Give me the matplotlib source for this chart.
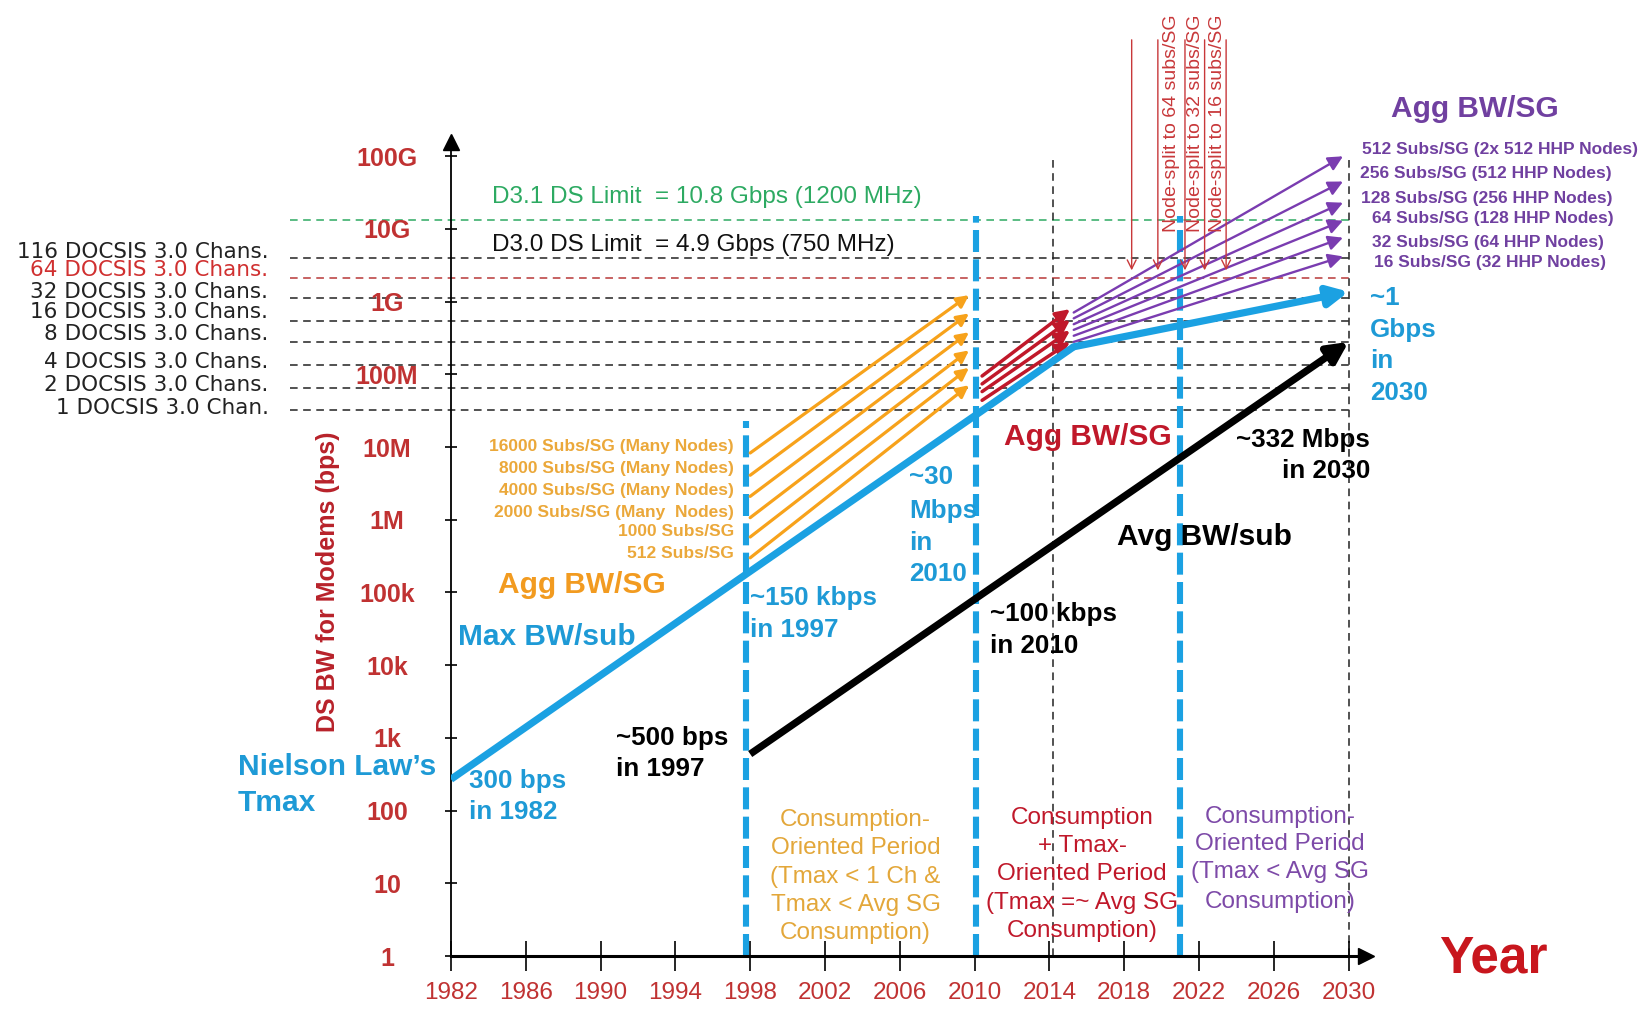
import matplotlib
matplotlib.use("Agg")
import matplotlib.pyplot as plt
from matplotlib.ticker import NullLocator

plt.rcParams['font.family'] = ['Liberation Sans', 'DejaVu Sans']

# ---------------- data ----------------
x_ticks = [1982, 1986, 1990, 1994, 1998, 2002, 2006, 2010, 2014, 2018, 2022, 2026, 2030]
y_ticks = [1, 10, 100, 1e3, 1e4, 1e5, 1e6, 1e7, 1e8, 1e9, 1e10, 1e11]
y_tick_labels = ['1', '10', '100', '1k', '10k', '100k', '1M', '10M', '100M', '1G', '10G', '100G']

# Nielsen's law Tmax (Max BW/sub)
maxbw_years = [1982, 1997.8, 2010.1, 2015.3, 2030.0]
maxbw_bps = [270, 1.8e5, 2.8e7, 2.4e8, 1.37e9]

# Avg BW/sub
avgbw_years = [1998.0, 2010.1, 2030.0]
avgbw_bps = [600, 8.4e4, 2.8e8]

# Agg BW/SG (orange, 1998-2010)
orange_years = [1998.0, 2009.7]
orange_labels = ['16000 Subs/SG (Many Nodes)', '8000 Subs/SG (Many Nodes)',
                 '4000 Subs/SG (Many Nodes)', '2000 Subs/SG (Many  Nodes)',
                 '1000 Subs/SG', '512 Subs/SG']
orange_start = [8.3e6, 4.1e6, 2.1e6, 1.07e6, 5.8e5, 3.0e5]
orange_end = [1.23e9, 6.9e8, 3.8e8, 2.14e8, 1.23e8, 7.1e7]

# Agg BW/SG (dark red, 2010-2015)
red_years = [2010.4, 2015.1]
red_start = [9.5e7, 7.4e7, 5.8e7, 4.4e7]
red_end = [7.9e8, 5.6e8, 4.0e8, 2.8e8]

# Agg BW/SG (purple, 2015-2030)
purple_years = [2015.3, 2029.7]
purple_labels = ['512 Subs/SG (2x 512 HHP Nodes)', '256 Subs/SG (512 HHP Nodes)',
                 '128 Subs/SG (256 HHP Nodes)', '64 Subs/SG (128 HHP Nodes)',
                 '32 Subs/SG (64 HHP Nodes)', '16 Subs/SG (32 HHP Nodes)']
purple_start = [7.1e8, 5.9e8, 4.9e8, 4.1e8, 3.4e8, 2.8e8]
purple_end = [1.0e11, 4.5e10, 2.3e10, 1.3e10, 7.6e9, 4.2e9]

# Node-split arrows
split_years = [2018.4, 2019.8, 2021.25, 2022.3, 2023.45]
split_top = 4.0e12
split_bottom = 2.7e9
split_labels = ['Node-split to 64 subs/SG', 'Node-split to 32 subs/SG', 'Node-split to 16 subs/SG']

# DOCSIS channel reference lines
docsis_labels = ['116 DOCSIS 3.0 Chans.', '64 DOCSIS 3.0 Chans.', '32 DOCSIS 3.0 Chans.',
                 '16 DOCSIS 3.0 Chans.', '8 DOCSIS 3.0 Chans.', '4 DOCSIS 3.0 Chans.',
                 '2 DOCSIS 3.0 Chans.', '1 DOCSIS 3.0 Chan.']
docsis_bps = [3.95e9, 2.14e9, 1.12e9, 5.5e8, 2.75e8, 1.35e8, 6.6e7, 3.2e7]
d31_bps = 1.35e10
hline_span = [1973.4, 2030.0]

# Period boundaries
blue_vline_years = [1997.8, 2010.1, 2021.0]
blue_vline_tops = [2.3e7, 1.5e10, 1.5e10]
black_vline_years = [2014.2, 2030.0]
black_vline_top = 9.5e10

# ---------------- style ----------------
BLUE = '#1BA1E2'
BLUE_T = '#1E9AD6'
ORANGE = '#F7A21B'
ORANGE_T = '#F29B20'
ORANGE_S = '#EBA83A'
GOLD = '#E3A73A'
DRED = '#C0182A'
PURPLE = '#7A3CB0'
PURPLE_T = '#7040A0'
GREEN = '#2DAA62'
TICKRED = '#C03232'
SPLITRED = '#C8383A'

W, H = 1652, 1010
X0, Y0 = 451, 956
PX_YR, PX_DEC = 18.7, 72.7
XR, YT = 1366, 142

fig = plt.figure(figsize=(W / 100, H / 100), dpi=100)
fig.patch.set_facecolor('white')
ax = fig.add_axes([X0 / W, (H - Y0) / H, (XR - X0) / W, (Y0 - YT) / H])
ax.set_facecolor('none')
ax.set_yscale('log')
ax.set_xlim(1982, 1982 + (XR - X0) / PX_YR)
ax.set_ylim(1, 10 ** ((Y0 - YT) / PX_DEC))

for s in ['top', 'right']:
    ax.spines[s].set_visible(False)
ax.spines['left'].set_linewidth(1.3)
ax.spines['bottom'].set_linewidth(2.2)
ax.plot(1, 0, '>', color='black', ms=12, transform=ax.transAxes, clip_on=False, zorder=6)
ax.plot(0, 1, '^', color='black', ms=11, transform=ax.transAxes, clip_on=False, zorder=6)

ax.set_xticks(x_ticks)
ax.set_xticklabels([str(v) for v in x_ticks])
ax.xaxis.set_minor_locator(NullLocator())
ax.tick_params(axis='x', direction='inout', length=21, width=1.2, pad=8,
               labelsize=17.5, labelcolor=TICKRED)

ax.set_yticks(y_ticks)
ax.set_yticklabels(y_tick_labels)
ax.yaxis.set_minor_locator(NullLocator())
ax.tick_params(axis='y', direction='inout', length=9, width=1.2, pad=41.5,
               labelsize=18, labelcolor=TICKRED)
for lab in ax.get_yticklabels():
    lab.set_ha('center')
    lab.set_fontweight('bold')

# horizontal dashed reference lines
thin_dash = (0, (5, 3.6))
docsis_colors = ['#222222'] * len(docsis_bps)
docsis_colors[1] = '#B83838'
ax.hlines(docsis_bps, hline_span[0], hline_span[1], colors=docsis_colors,
          linestyles=[thin_dash], lw=1.1, clip_on=False, zorder=1)
ax.hlines([d31_bps], hline_span[0], hline_span[1], colors=GREEN,
          linestyles=[thin_dash], lw=1.1, clip_on=False, zorder=1)

# vertical dashed lines
ax.vlines(black_vline_years, 1, black_vline_top, colors='#222222',
          linestyles=[thin_dash], lw=1.1, clip_on=False, zorder=1)
ax.vlines(blue_vline_years, 1, blue_vline_tops, colors=BLUE,
          linestyles=[(0, (3.6, 1.2))], lw=4.4, clip_on=False, zorder=2)


def arrow(x0, y0, x1, y1, color, lw, ms, style='-|>', z=3):
    ax.annotate('', xy=(x1, y1), xytext=(x0, y0), annotation_clip=False,
                arrowprops=dict(arrowstyle=style, color=color, lw=lw,
                                mutation_scale=ms, shrinkA=0, shrinkB=0),
                zorder=z)


for a, b in zip(orange_start, orange_end):
    arrow(orange_years[0], a, orange_years[1], b, ORANGE, 2.3, 18)
for a, b in zip(red_start, red_end):
    arrow(red_years[0], a, red_years[1], b, DRED, 2.5, 21)
for a, b in zip(purple_start, purple_end):
    arrow(purple_years[0], a, purple_years[1], b, PURPLE, 1.7, 22)
for xs in split_years:
    arrow(xs, split_top, xs, split_bottom, SPLITRED, 1.0, 16, style='->')

# Max BW/sub
ax.plot(maxbw_years[:-1], maxbw_bps[:-1], color=BLUE, lw=5.2,
        solid_capstyle='butt', solid_joinstyle='round', zorder=4)
arrow(maxbw_years[-2], maxbw_bps[-2], maxbw_years[-1], maxbw_bps[-1], BLUE, 5.2, 30, z=4)
# Avg BW/sub
ax.plot(avgbw_years[:-1], avgbw_bps[:-1], color='black', lw=5.2,
        solid_capstyle='butt', zorder=4)
arrow(avgbw_years[-2], avgbw_bps[-2], avgbw_years[-1], avgbw_bps[-1], 'black', 5.2, 30, z=4)


# ---------------- text ----------------
def T(x, y, s, **kw):
    kw.setdefault('va', 'center')
    kw.setdefault('ha', 'left')
    fig.text(x / W, 1 - y / H, s, **kw)


BIG = 21.5
ANN = 18.7
SMALL = 12.5

T(1475, 109, 'Agg BW/SG', ha='center', fontsize=BIG, fontweight='bold', color=PURPLE_T)
purple_lx = [1362, 1360, 1361, 1372, 1372, 1374]
purple_ly = [149.6, 173.8, 198, 219, 242, 262.4]
for s, x, y in zip(purple_labels, purple_lx, purple_ly):
    T(x, y, s, fontsize=SMALL, fontweight='bold', color=PURPLE_T)

for s, y in zip(['~1', 'Gbps', 'in', '2030'], [298, 330, 361, 393]):
    T(1370, y, s, fontsize=ANN, fontweight='bold', color=BLUE_T)
T(1370, 440, '~332 Mbps', ha='right', fontsize=ANN, fontweight='bold', color='black')
T(1370, 471, 'in 2030', ha='right', fontsize=ANN, fontweight='bold', color='black')
T(1117, 537, 'Avg BW/sub', fontsize=BIG, fontweight='bold', color='black')
T(1004, 437, 'Agg BW/SG', fontsize=BIG, fontweight='bold', color=DRED)
for s, y in zip(['~30', 'Mbps', 'in', '2010'], [477, 511, 543, 574]):
    T(909, y, s, fontsize=ANN, fontweight='bold', color=BLUE_T)
T(990, 614, '~100 kbps', fontsize=ANN, fontweight='bold', color='black')
T(990, 646, 'in 2010', fontsize=ANN, fontweight='bold', color='black')
T(750, 598, '~150 kbps', fontsize=ANN, fontweight='bold', color=BLUE_T)
T(750, 630, 'in 1997', fontsize=ANN, fontweight='bold', color=BLUE_T)
T(498, 585, 'Agg BW/SG', fontsize=BIG, fontweight='bold', color=ORANGE_T)
for s, y in zip(orange_labels, [446.7, 469, 491, 512, 532, 554]):
    T(734, y, s, ha='right', fontsize=SMALL, fontweight='bold', color=ORANGE_S)
T(458, 637, 'Max BW/sub', fontsize=BIG, fontweight='bold', color=BLUE_T)
T(238, 767, 'Nielson Law\u2019s', fontsize=BIG, fontweight='bold', color=BLUE_T)
T(238, 803, 'Tmax', fontsize=BIG, fontweight='bold', color=BLUE_T)
T(469, 781, '300 bps', fontsize=ANN, fontweight='bold', color=BLUE_T)
T(469, 812, 'in 1982', fontsize=ANN, fontweight='bold', color=BLUE_T)
T(616, 737.5, '~500 bps', fontsize=ANN, fontweight='bold', color='black')
T(616, 769, 'in 1997', fontsize=ANN, fontweight='bold', color='black')

PER = 17.5
for s, y in zip(['Consumption-', 'Oriented Period', '(Tmax < 1 Ch &', 'Tmax < Avg SG', 'Consumption)'],
                [819.7, 848, 876.6, 905, 933.5]):
    T(855.5, y, s, ha='center', fontsize=PER, color=GOLD)
for s, y in zip(['Consumption', '+ Tmax-', 'Oriented Period', '(Tmax =~ Avg SG', 'Consumption)'],
                [817.6, 846, 874.5, 903, 931.4]):
    T(1082, y, s, ha='center', fontsize=PER, color=DRED)
for s, y in zip(['Consumption-', 'Oriented Period', '(Tmax < Avg SG', 'Consumption)'],
                [816.5, 844, 872.4, 902]):
    T(1280, y, s, ha='center', fontsize=PER, color='#7D4AA8')

T(492, 197, 'D3.1 DS Limit  = 10.8 Gbps (1200 MHz)', fontsize=17.5, color=GREEN)
T(492, 245.5, 'D3.0 DS Limit  = 4.9 Gbps (750 MHz)', fontsize=17.5, color='#111111')

T(1493, 959, 'Year', ha='center', fontsize=37, fontweight='bold', color='#C8161D')
T(328, 582, 'DS BW for Modems (bps)', ha='center', rotation=90, fontsize=18,
  fontweight='bold', color='#B8222A')

for s, x in zip(split_labels, [1171, 1196, 1217]):
    T(x, 232, s, ha='center', va='bottom', rotation=90, fontsize=14, color=SPLITRED)

docsis_ly = [251.7, 270, 291.7, 311.7, 334, 361.7, 385, 408.3]
for s, y, c in zip(docsis_labels, docsis_ly, docsis_colors):
    T(268.5, y, s, ha='right', fontsize=15.5, family=['DejaVu Sans'],
      color=c if c != '#B83838' else '#D03030')

fig.savefig('out.png', dpi=100, facecolor='white')
